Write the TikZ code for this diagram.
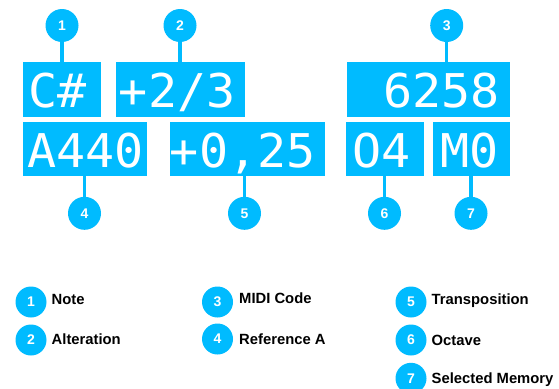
\documentclass[tikz,border=0pt]{standalone}
\usepackage{fontspec}
\setmainfont{Liberation Sans}
\newfontfamily\lcdfont[FakeStretch=1.04]{DejaVu Sans Mono}
\definecolor{lcdblue}{RGB}{0,187,255}
\begin{document}
\begin{tikzpicture}[
        x=1pt, y=-1pt,
        lcdbox/.style={fill=lcdblue, inner sep=0pt, anchor=north west},
        lcdtext/.style={text=white, inner sep=0pt, anchor=base west, font=\lcdfont\fontsize{46.5}{46.5}\selectfont},
        badge/.style={circle, fill=lcdblue, text=white, inner sep=0pt, minimum size=33pt, font=\bfseries\fontsize{14}{14}\selectfont},
        keybadge/.style={badge, minimum size=31pt},
        keytext/.style={anchor=base west, inner sep=0pt, font=\bfseries\fontsize{14.8}{14.8}\selectfont},
        stem/.style={draw=lcdblue, line width=3.3pt}
    ]
    \useasboundingbox (0,0) rectangle (559,388);
    \clip (0,0) rectangle (559,388);

    % display fields
    \node[lcdbox, minimum width=78.3pt, minimum height=55pt] (note) at (22.7,61.7) {};
    \node[lcdbox, minimum width=128.6pt, minimum height=55pt] (alter) at (115.7,61.7) {};
    \node[lcdbox, minimum width=163.3pt, minimum height=55pt] (midi) at (346.7,61.7) {};
    \node[lcdbox, minimum width=123.7pt, minimum height=54pt] (refa) at (23,122) {};
    \node[lcdbox, minimum width=155.5pt, minimum height=54pt] (transp) at (169.5,122) {};
    \node[lcdbox, minimum width=78pt, minimum height=54pt] (octave) at (346,122) {};
    \node[lcdbox, minimum width=77.3pt, minimum height=54pt] (memory) at (432.7,122) {};

    \node[lcdtext] (noteval) at (28,107.5) {C\#};
    \node[lcdtext] (alterval) at (118.7,107.5) {+2/3};
    \node[lcdtext, anchor=base east] (midival) at (500.3,107.5) {6258};
    \node[lcdtext] (refaval) at (27,167) {A440};
    \node[lcdtext] (transpval) at (169.7,167) {+0,25};
    \node[lcdtext] (octaveval) at (352,167) {O4};
    \node[lcdtext] (memoryval) at (440.3,167) {M0};

    % numbered callouts
    \node[badge] (b1) at (62,25.5) {1};
    \node[badge] (b2) at (180,25.5) {2};
    \node[badge] (b3) at (446.7,25.5) {3};
    \node[badge] (b4) at (84.5,213.3) {4};
    \node[badge] (b5) at (244.5,213.3) {5};
    \node[badge] (b6) at (384.5,213.3) {6};
    \node[badge] (b7) at (471,213.3) {7};

    \draw[stem] (b1.south) -- (b1.south |- note.north);
    \draw[stem] (b2.south) -- (b2.south |- alter.north);
    \draw[stem] (b3.south) -- (b3.south |- midi.north);
    \draw[stem] (b4.north) -- (b4.north |- refa.south);
    \draw[stem] (b5.north) -- (b5.north |- transp.south);
    \draw[stem] (b6.north) -- (b6.north |- octave.south);
    \draw[stem] (b7.north) -- (b7.north |- memory.south);

    % legend
    \node[keybadge] (k1) at (31,302) {1};
    \node[keybadge] (k2) at (31,340) {2};
    \node[keybadge] (k3) at (217.5,302) {3};
    \node[keybadge] (k4) at (217.5,339) {4};
    \node[keybadge] (k5) at (411,302) {5};
    \node[keybadge] (k6) at (411,340) {6};
    \node[keybadge] (k7) at (411,378.3) {7};

    \node[keytext] (k1text) at (51.5,304) {Note};
    \node[keytext] (k2text) at (51.5,344.5) {Alteration};
    \node[keytext] (k3text) at (239,303.5) {MIDI Code};
    \node[keytext] (k4text) at (239,344.3) {Reference A};
    \node[keytext] (k5text) at (431.5,304) {Transposition};
    \node[keytext] (k6text) at (431.5,345) {Octave};
    \node[keytext] (k7text) at (431.5,383.3) {Selected Memory};
\end{tikzpicture}
\end{document}
